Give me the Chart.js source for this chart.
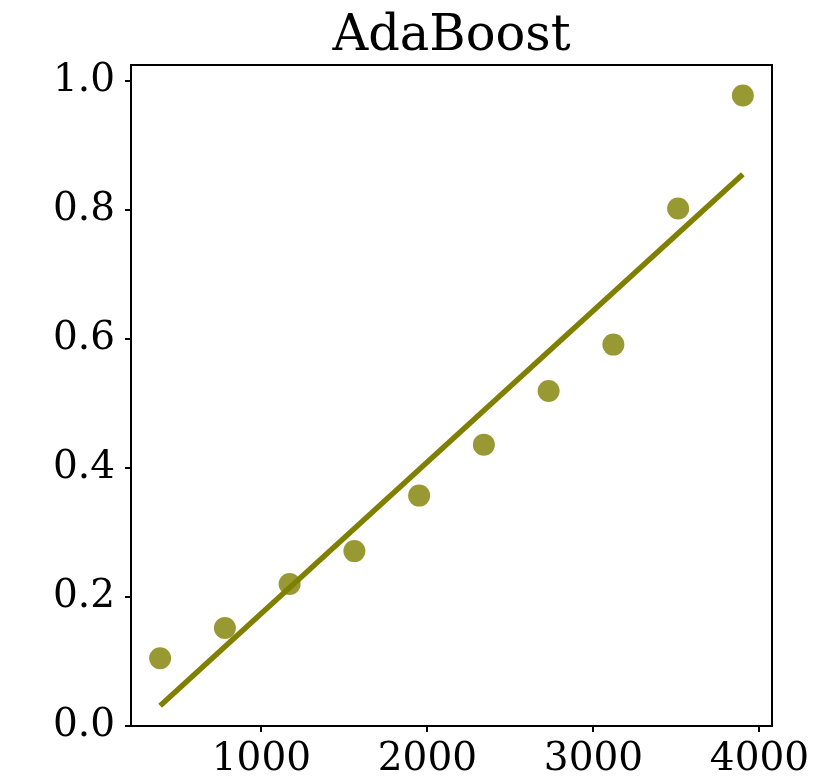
<!DOCTYPE html>
<html>
<head>
<meta charset="utf-8">
<script src="https://cdn.jsdelivr.net/npm/chart.js@4.4.0/dist/chart.umd.min.js"></script>
<style>
  body { margin: 0; background: #fff; }
  #wrap { width: 826px; height: 780px; }
</style>
</head>
<body>
<div id="wrap"><canvas id="chart" width="826" height="780"></canvas></div>
<script>
// training sizes and scores
const sizes = [390, 780, 1170, 1560, 1950, 2340, 2730, 3120, 3510, 3900];
const scores = [0.105, 0.152, 0.220, 0.271, 0.357, 0.436, 0.519, 0.591, 0.802, 0.977];
// fitted line end points
const fitX = [390, 3900];
const fitY = [0.0315, 0.855];

const xTicks = [1000, 2000, 3000, 4000];
const yTicks = [0.0, 0.2, 0.4, 0.6, 0.8, 1.0];

const serif = "'DejaVu Serif', serif";

// black box around the plot area
const frame = {
  id: "frame",
  afterDraw(chart) {
    const a = chart.chartArea;
    const ctx = chart.ctx;
    ctx.save();
    ctx.strokeStyle = "#000";
    ctx.lineWidth = 2;
    ctx.strokeRect(a.left, a.top, a.right - a.left, a.bottom - a.top);
    ctx.restore();
  }
};

new Chart(document.getElementById("chart"), {
  type: "scatter",
  data: {
    datasets: [
      {
        data: sizes.map((x, i) => ({ x: x, y: scores[i] })),
        backgroundColor: "rgba(128,128,0,0.8)",
        borderWidth: 0,
        pointRadius: 11,
        pointHoverRadius: 11
      },
      {
        type: "line",
        data: fitX.map((x, i) => ({ x: x, y: fitY[i] })),
        borderColor: "#808000",
        borderWidth: 5.5,
        pointRadius: 0,
        fill: false
      }
    ]
  },
  options: {
    responsive: false,
    animation: false,
    layout: { padding: { left: 0, right: 54, top: 0, bottom: 0 } },
    plugins: {
      legend: { display: false },
      tooltip: { enabled: false },
      title: {
        display: true,
        text: "AdaBoost",
        fullSize: false,
        color: "#000",
        font: { family: serif, size: 49.5, weight: "normal", lineHeight: 1.0 },
        padding: { top: 12.85, bottom: 2.65 }
      }
    },
    scales: {
      x: {
        type: "linear",
        min: 214.5,
        max: 4075.5,
        afterFit: s => { s.height = 54; },
        afterBuildTicks: s => { s.ticks = xTicks.map(v => ({ value: v })); },
        border: { display: false },
        grid: { drawOnChartArea: false, color: "#000", lineWidth: 2, tickLength: 6 },
        ticks: { color: "#000", padding: 4, maxRotation: 0, font: { family: serif, size: 39 },
          callback: v => String(v) }
      },
      y: {
        type: "linear",
        min: 0,
        max: 1.0243,
        afterFit: s => { s.width = 131; },
        afterBuildTicks: s => { s.ticks = yTicks.map(v => ({ value: v })); },
        border: { display: false },
        grid: { drawOnChartArea: false, color: "#000", lineWidth: 2, tickLength: 6 },
        ticks: { color: "#000", padding: 10, font: { family: serif, size: 39 },
          callback: v => v.toFixed(1) }
      }
    }
  },
  plugins: [frame]
});
</script>
</body>
</html>
